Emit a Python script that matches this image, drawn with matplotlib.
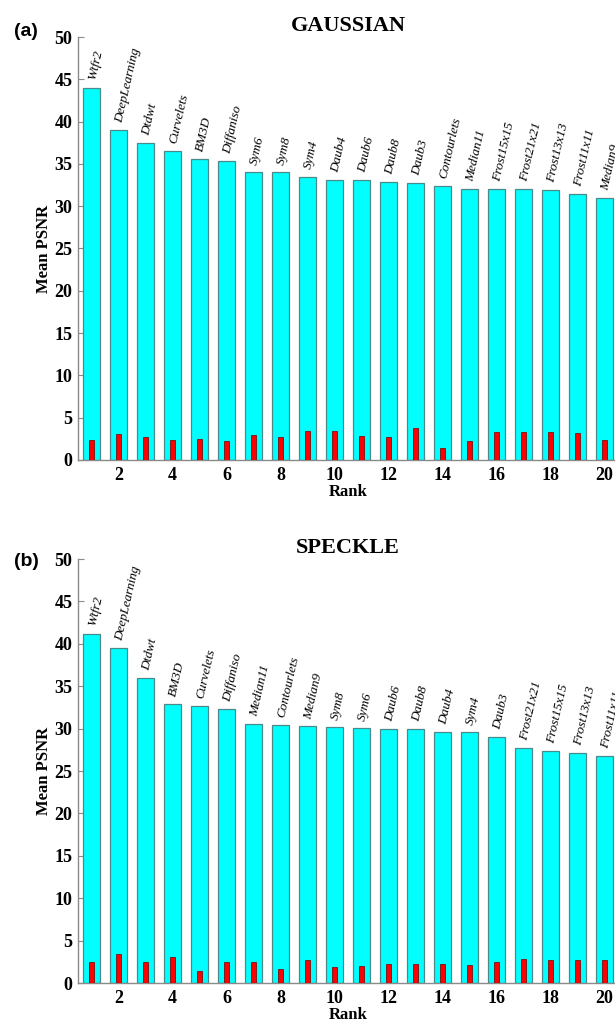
import matplotlib
matplotlib.use("Agg")
import matplotlib.pyplot as plt
import numpy as np

# ---- data ----
ranks = list(range(1, 21))

gauss_methods = ["Wtfr2", "DeepLearning", "Dtdwt", "Curvelets", "BM3D", "Diffaniso",
                 "Sym6", "Sym8", "Sym4", "Daub4", "Daub6", "Daub8", "Daub3",
                 "Contourlets", "Median11", "Frost15x15", "Frost21x21", "Frost13x13",
                 "Frost11x11", "Median9"]
gauss_mean = [44.0, 39.0, 37.5, 36.5, 35.6, 35.3, 34.0, 34.0, 33.5, 33.1,
              33.1, 32.9, 32.7, 32.4, 32.0, 32.0, 32.0, 31.9, 31.5, 31.0]
gauss_std = [2.4, 3.1, 2.7, 2.4, 2.5, 2.25, 2.95, 2.7, 3.45, 3.43,
             2.83, 2.68, 3.82, 1.38, 2.28, 3.35, 3.35, 3.27, 3.19, 2.36]

speck_methods = ["Wtfr2", "DeepLearning", "Dtdwt", "BM3D", "Curvelets", "Diffaniso",
                 "Median11", "Contourlets", "Median9", "Sym8", "Sym6", "Daub6",
                 "Daub8", "Daub4", "Sym4", "Daub3", "Frost21x21", "Frost15x15",
                 "Frost13x13", "Frost11x11"]
speck_mean = [41.2, 39.45, 36.0, 32.9, 32.65, 32.3, 30.6, 30.45, 30.25, 30.15,
              30.05, 29.95, 29.9, 29.6, 29.6, 29.0, 27.7, 27.4, 27.15, 26.8]
speck_std = [2.48, 3.46, 2.48, 3.11, 1.38, 2.52, 2.44, 1.69, 2.68, 1.93,
             1.97, 2.24, 2.24, 2.28, 2.17, 2.48, 2.8, 2.76, 2.72, 2.68]

xticks = [2, 4, 6, 8, 10, 12, 14, 16, 18, 20]
yticks = [0, 5, 10, 15, 20, 25, 30, 35, 40, 45, 50]

SERIF = ["Liberation Serif", "DejaVu Serif"]

W, H = 615, 1029
fig = plt.figure(figsize=(W / 100, H / 100), dpi=100)

def px_axes(left, top, right, bottom):
    return [left / W, 1 - bottom / H, (right - left) / W, (bottom - top) / H]

panels = [
    ("(a)", "GAUSSIAN", gauss_methods, gauss_mean, gauss_std, px_axes(78, 37, 618, 460), 31),
    ("(b)", "SPECKLE", speck_methods, speck_mean, speck_std, px_axes(78, 559, 618, 983), 561),
]

spine_col = "#8a8a8a"
for tag, title, methods, mean, std, rect, tag_y in panels:
    ax = fig.add_axes(rect)
    ax.bar(ranks, mean, width=0.6, color="#00FFFF", edgecolor="#4a8a8a", linewidth=0.9, zorder=2)
    ax.bar(ranks, std, width=0.2, color="#FF0000", edgecolor="#7a1010", linewidth=0.6, zorder=3)
    for r, m, name in zip(ranks, mean, methods):
        ax.text(r + 0.02, m + 0.9, name, rotation=77, rotation_mode="anchor",
                ha="left", va="center", family=SERIF, style="italic",
                fontsize=9.5, clip_on=False, zorder=4)
    ax.set_xlim(0.5, 20.5)
    ax.set_ylim(0, 50)
    ax.set_xticks(xticks)
    ax.set_yticks(yticks)
    ax.tick_params(direction="in", length=4, width=0.8, color=spine_col,
                   labelsize=13, pad=4)
    ax.tick_params(axis="x", pad=5)
    for lab in ax.get_xticklabels() + ax.get_yticklabels():
        lab.set_family(SERIF)
        lab.set_fontweight("bold")
    for s in ["top", "right"]:
        ax.spines[s].set_visible(False)
    for s in ["left", "bottom"]:
        ax.spines[s].set_color(spine_col)
        ax.spines[s].set_linewidth(1.0)
    ax.set_xlabel("Rank", family=SERIF, fontweight="bold", fontsize=12, labelpad=0)
    ax.set_ylabel("Mean PSNR", family=SERIF, fontweight="bold", fontsize=12, labelpad=2)
    ax.set_title(title, family=SERIF, fontweight="bold", fontsize=16, pad=4)
    fig.text(26 / W, 1 - tag_y / H, tag, family=["Liberation Sans", "DejaVu Sans"],
             fontweight="bold", fontsize=14, ha="center", va="center")

fig.savefig("out.png", dpi=100)
